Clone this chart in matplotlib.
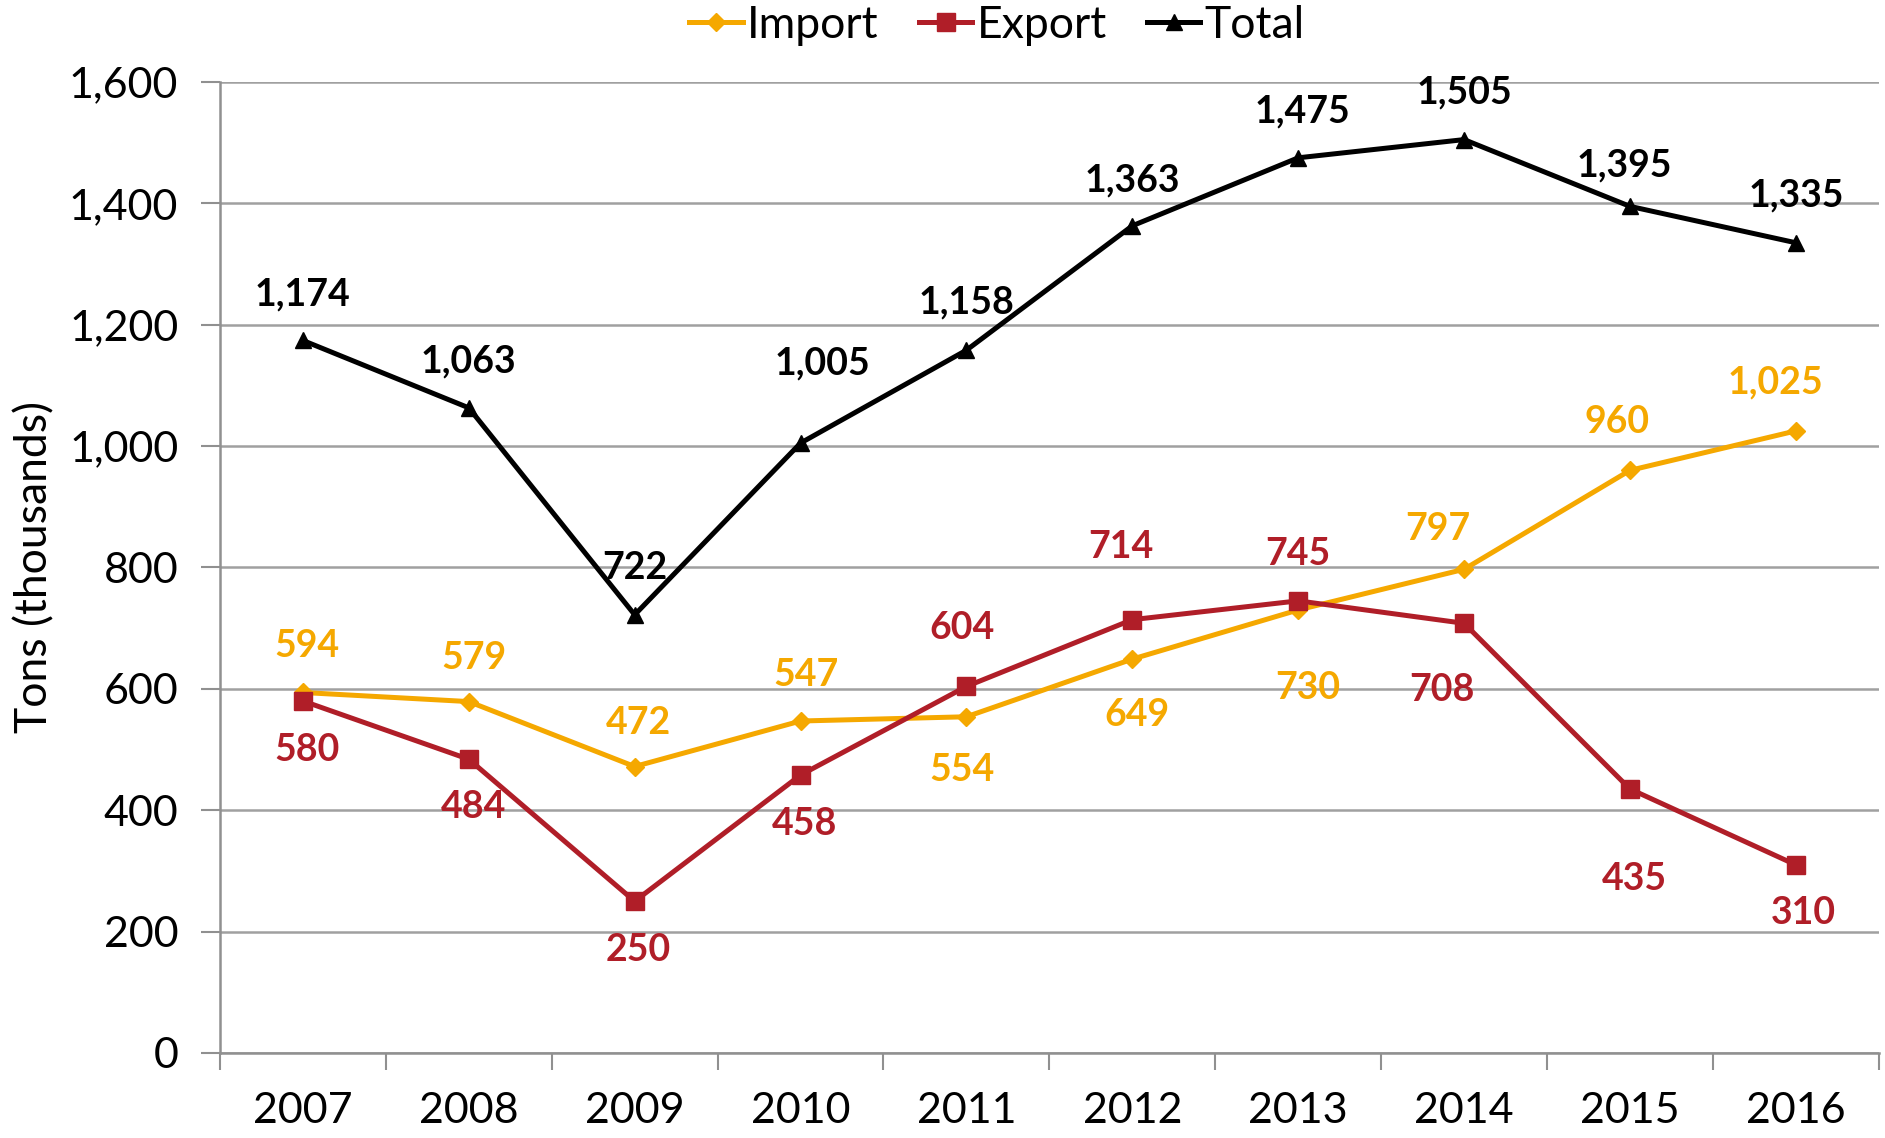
#! /usr/bin/env python3
import matplotlib
matplotlib.use('Agg')
import matplotlib.pyplot as plt
from matplotlib.ticker import FuncFormatter

plt.rcParams['font.family'] = ['Lato', 'DejaVu Sans']

years = ['2007', '2008', '2009', '2010', '2011', '2012', '2013', '2014', '2015', '2016']
imports = [594, 579, 472, 547, 554, 649, 730, 797, 960, 1025]
exports = [580, 484, 250, 458, 604, 714, 745, 708, 435, 310]
totals = [1174, 1063, 722, 1005, 1158, 1363, 1475, 1505, 1395, 1335]

# label offsets in pixels (dx, dy)
off_total = [(0, 46), (0, 46), (0, 47), (22, 80), (0, 48), (0, 45), (4, 46), (0, 47), (-6, 41), (0, 47)]
off_import = [(4, 46), (5, 44), (4, 44), (5, 46), (-4, -53), (5, -56), (10, -78), (-26, 40), (-13, 48), (-20, 48)]
off_export = [(4, -49), (5, -48), (4, -49), (4, -49), (-4, 58), (-11, 73), (0, 47), (-22, -67), (4, -90), (8, -48)]

c_imp = '#F5A800'
c_exp = '#B01E28'
c_tot = '#000000'

fig = plt.figure(figsize=(18.85, 11.38), dpi=100)
ax = fig.add_axes([0.1167, 0.0747, 0.880, 0.8533])

x = list(range(len(years)))
ax.plot(x, imports, color=c_imp, lw=3.6, marker='D', ms=9, label='Import', zorder=3)
ax.plot(x, exports, color=c_exp, lw=3.6, marker='s', ms=13, label='Export', zorder=4)
ax.plot(x, totals, color=c_tot, lw=3.6, marker='^', ms=12, label='Total', zorder=5)

for vals, offs, col in [(totals, off_total, c_tot), (imports, off_import, c_imp), (exports, off_export, c_exp)]:
    for i, v in enumerate(vals):
        ax.annotate(f'{v:,}', (x[i], v), xytext=offs[i], textcoords='offset pixels',
                    ha='center', va='center', fontsize=27, fontweight='bold', color=col, zorder=6)

ax.set_xlim(-0.5, len(years) - 0.5)
ax.set_ylim(0, 1600)
ax.set_yticks(range(0, 1601, 200))
ax.yaxis.set_major_formatter(FuncFormatter(lambda v, p: f'{int(v):,}'))
ax.set_xticks(x)
ax.set_xticklabels(years)
ax.set_xticks([i - 0.5 for i in range(len(years) + 1)], minor=True)
ax.tick_params(axis='x', which='major', length=0, labelsize=31, pad=28)
ax.tick_params(axis='x', which='minor', length=12, width=1.5, color='#909090')
ax.tick_params(axis='y', length=14, width=1.5, color='#909090', labelsize=31, pad=16)

ax.grid(axis='y', color='#A0A0A0', lw=1.8)
ax.set_axisbelow(True)
for s in ['top', 'right']:
    ax.spines[s].set_visible(False)
ax.spines['left'].set_color('#909090')
ax.spines['left'].set_linewidth(1.8)
ax.spines['bottom'].set_color('#909090')
ax.spines['bottom'].set_linewidth(1.8)

ax.set_ylabel('Tons (thousands)', fontsize=32, labelpad=10)

ax.legend(loc='center', bbox_to_anchor=(0.529, 0.978), bbox_transform=fig.transFigure,
          ncol=3, frameon=False, fontsize=32, handlelength=1.2, handletextpad=0.1,
          columnspacing=0.9, borderaxespad=0)

fig.savefig('out.png', dpi=100)
